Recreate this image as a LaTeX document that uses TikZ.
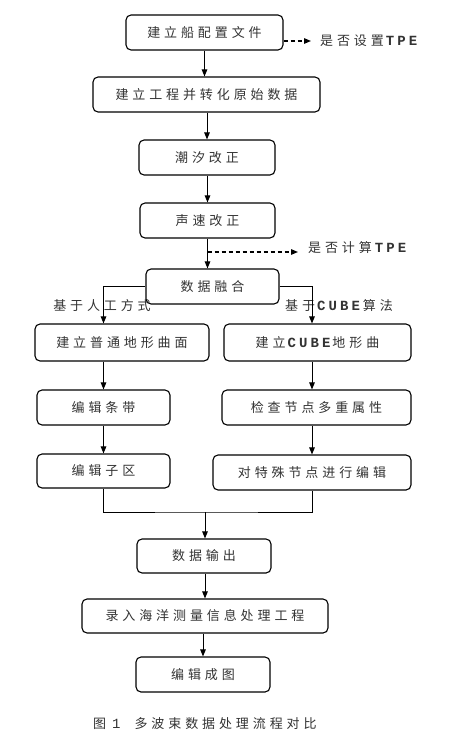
\documentclass[tikz,border=0pt]{standalone}
\usepackage{fontspec}
\usetikzlibrary{arrows.meta}
\newfontfamily\cjk{Noto Sans CJK SC}[LetterSpace=30]
\newfontfamily\latm{Liberation Mono}[LetterSpace=22]
\newcommand{\lt}[1]{{\latm\bfseries\fontsize{14}{15}\selectfont #1}}
\tikzset{
  box/.style={draw, line width=1.1pt, rounded corners=5pt, minimum height=35pt,
    inner sep=0pt, font=\cjk\fontsize{13}{15}\selectfont, text=black!80},
  lbl/.style={inner sep=0pt, font=\cjk\fontsize{13}{15}\selectfont, text=black!80},
  arr/.style={line width=1pt, -{Triangle[length=7pt,width=5.5pt]}},
  dasharr/.style={line width=1.2pt, dash pattern=on 4pt off 3pt, -{Triangle[length=7pt,width=5.5pt]}},
  ln/.style={line width=1pt}
}
\begin{document}
\begin{tikzpicture}[x=1pt,y=-1pt]
\useasboundingbox[fill=white] (0,0) rectangle (451,750);
\node[box, minimum width=157pt] (b1) at (204.5,32.5) {建立船配置文件};
\node[box, minimum width=227pt] (b2) at (206.5,94.5) {建立工程并转化原始数据};
\node[box, minimum width=136pt] (b3) at (207,157.5) {潮汐改正};
\node[box, minimum width=135pt] (b4) at (207.5,220.5) {声速改正};
\node[box, minimum width=133pt] (b5) at (212.5,286.5) {数据融合};
\node[box, minimum width=174pt, minimum height=37pt] (b6) at (122,342.5) {建立普通地形曲面};
\node[box, minimum width=187pt, minimum height=37pt] (b7) at (317.5,342.5) {建立\hspace{2pt}\lt{CUBE}\hspace{2pt}地形曲};
\node[box, minimum width=133pt] (b8) at (103.5,407.5) {编辑条带};
\node[box, minimum width=189pt] (b9) at (316.5,407.5) {检查节点多重属性};
\node[box, minimum width=133pt, minimum height=34pt] (b10) at (103.5,471) {编辑子区};
\node[box, minimum width=198pt] (b11) at (312,472.5) {对特殊节点进行编辑};
\node[box, minimum width=134pt, minimum height=34pt] (b12) at (204,556) {数据输出};
\node[box, minimum width=246pt, minimum height=34pt] (b13) at (205,616) {录入海洋测量信息处理工程};
\node[box, minimum width=134pt] (b14) at (203,674.5) {编辑成图};

\node[lbl, anchor=west] (t1) at (320,41) {是否设置\hspace{2pt}\lt{TPE}};
\node[lbl, anchor=west] (t2) at (308,248) {是否计算\hspace{3pt}\lt{TPE}};
\node[lbl] (l1) at (102,306) {基于人工方式};
\node[lbl] (l2) at (339,306) {基于\hspace{2pt}\lt{CUBE}\hspace{3pt}算法};
\node[lbl, anchor=west] (cap) at (93,724) {图\hspace{6pt}{\latm\fontsize{14}{15}\selectfont 1}\hspace{14pt}多波束数据处理流程对比};

\coordinate (d2) at (207.5,252);
\coordinate (mj) at (205,512);

\draw[arr] (b1.south) -- (b1.south |- b2.north);
\draw[dasharr] (b1.east |- t1.west) -- ([xshift=-9pt]t1.west);
\draw[arr] (b3.north |- b2.south) -- (b3.north);
\draw[arr] (b4.north |- b3.south) -- (b4.north);
\draw[arr] (b4.south) -- (b4.south |- b5.north);
\draw[dasharr] (d2) -- ([xshift=-10pt]t2.west |- d2);
\draw[arr] (b5.west) -| (b6.north -| b8);
\draw[arr] (b5.east) -| (b7.north -| b11);
\draw[arr] (b6.south -| b8) -- (b8.north);
\draw[arr] (b7.south -| b11) -- (b9.north -| b11);
\draw[arr] (b8.south) -- (b10.north);
\draw[arr] (b9.south -| b11) -- (b11.north);
\draw[ln] (b10.south) |- (mj) -| (b11.south);
\draw[arr] (mj) -- (mj |- b12.north);
\draw[arr] (b12.south -| b13) -- (b13.north);
\draw[arr] (b13.south -| b14) -- (b14.north);
\end{tikzpicture}
\end{document}
